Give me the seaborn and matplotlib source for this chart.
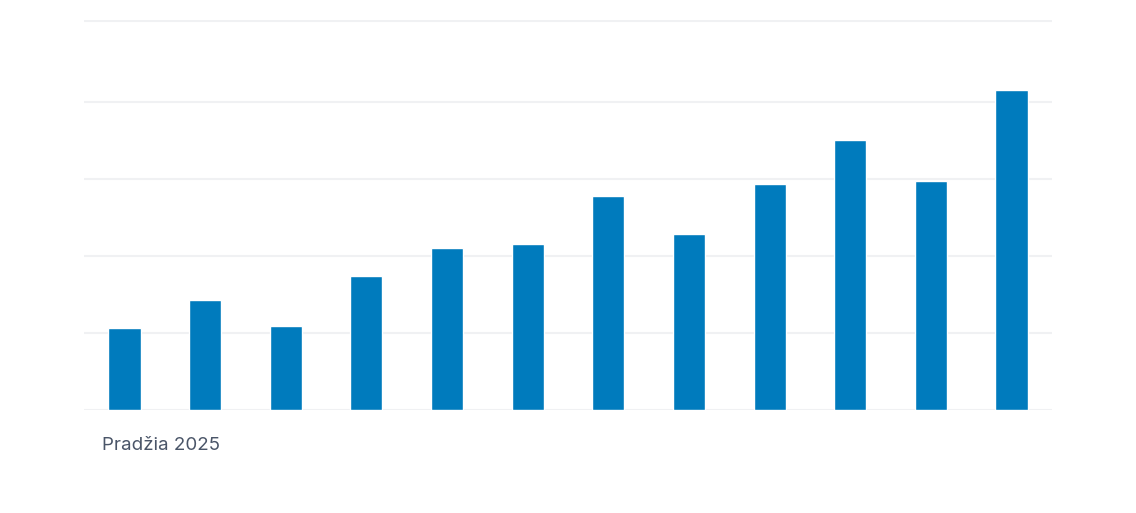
import matplotlib
matplotlib.use("Agg")
import matplotlib.pyplot as plt
import seaborn as sns

sns.set_theme(style="white")
plt.rcParams['font.family'] = ['Inter', 'DejaVu Sans']

months = [str(i) for i in range(1, 13)]
values = [1.06, 1.43, 1.09, 1.74, 2.10, 2.16, 2.78, 2.29, 2.94, 3.51, 2.98, 4.16]
start_label = "Pradžia 2025"

fig = plt.figure(figsize=(11.36, 5.13), dpi=100)
ax = fig.add_axes([0.074, 0.2008, 0.852, 0.7602])

for g in [0, 1, 2, 3, 4, 5.06]:
    ax.axhline(g, color="#f0f1f3", lw=1.5, zorder=0)

sns.barplot(x=months, y=values, color="#007BBD", width=0.4, saturation=1, ax=ax, zorder=2)

ax.set_ylim(0, 5.07)
ax.set_xlim(-0.5, 11.5)
ax.set_xticks([])
ax.set_yticks([])
ax.set_xlabel("")
ax.set_ylabel("")
sns.despine(ax=ax, left=True, bottom=True)

fig.text(102 / 1136, 1 - 446 / 513, start_label, fontsize=13.5, color="#4a5568",
         ha="left", va="center")

fig.savefig("out.png", dpi=100)
